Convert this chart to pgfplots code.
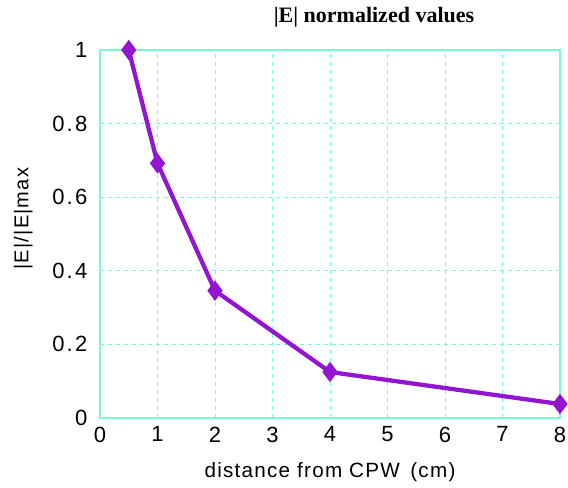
\documentclass[border=0pt]{standalone}
\usepackage{pgfplots}
\pgfplotsset{compat=1.18}
\usepackage{fontspec}
\setmainfont{Liberation Sans}[LetterSpace=4]
\newfontfamily\titlefont{Liberation Serif}
\definecolor{frame}{HTML}{7FF5D2}
\definecolor{linec}{HTML}{9315D0}
\begin{document}
\begin{tikzpicture}
\path[use as bounding box] (0pt,0pt) rectangle (426pt,-365.25pt);
\begin{axis}[
  at={(75pt,-313.5pt)}, anchor=south west,
  scale only axis, width=345pt, height=276pt,
  xmin=0, xmax=8, ymin=0, ymax=1,
  xtick={0,1,...,8}, ytick={0,0.2,0.4,0.6,0.8,1},
  yticklabels={0,0.2,0.4,0.6,0.8,1},
  grid=major,
  major grid style={dashed, color=frame, line width=0.6pt},
  axis line style={color=frame, line width=1pt},
  major tick length=0pt,
  tick label style={font=\fontsize{16.5}{18}\selectfont\addfontfeature{LetterSpace=10}, black},
  /pgf/number format/assume math mode=true,
  xticklabel style={yshift=-3pt},
  yticklabel style={xshift=-6pt},
  clip=false,
]
\addplot[color=linec, line width=3.2pt, mark=diamond*, mark size=5pt, mark options={solid, fill=linec}]
  coordinates {(0.5,1.0) (1,0.692) (2,0.346) (4,0.125) (8,0.038)};
\end{axis}
\node[font=\fontsize{15.5}{17}\selectfont\addfontfeature{LetterSpace=6}] at (247.5pt,-354pt) {distance from CPW \,(cm)};
\node[font=\fontsize{15}{17}\selectfont\addfontfeature{LetterSpace=6}, rotate=90] at (17.5pt,-164pt) {|E|/|E|max};
\node[font=\titlefont\bfseries\fontsize{16.5}{18}\selectfont] at (280.5pt,-13pt) {|E| normalized values};
\end{tikzpicture}
\end{document}
